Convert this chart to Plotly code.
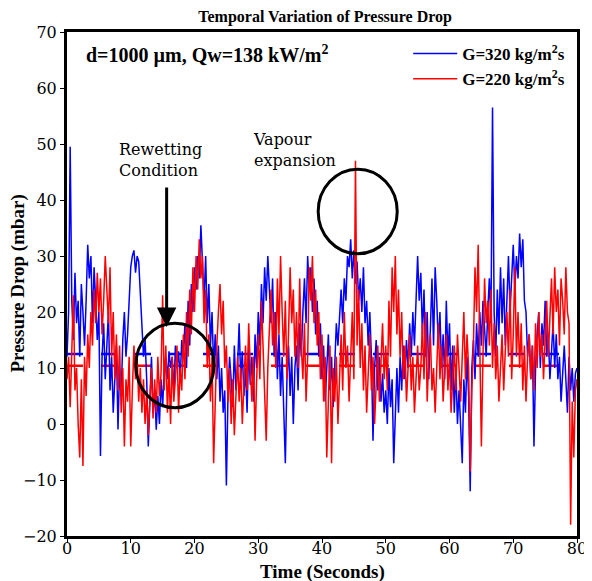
import numpy as np
import plotly.graph_objects as go

# sampled every 0.25 s, 0..80 s
T_STEP = 0.25

blue_g320 = [
    12, 20, 49.5, 22, 15, 27, 18, 22, 12, 25, 20, 14, 22, 32, 26, 30, 18, 28, 22, 15,
    20, -5.7, 12, 18, 8, 15, 20, 6, 12, 2, 8, 14, -1, 10, 5, 15, 20, 12, 16, 22,
    28, 30, 31, 27, 30, 29, 24, 18, 12, 15, 8, -4, 4, 12, 2, 6, -1, 5, 0, 8,
    3, 10, 12, 8, 13, 10, 12, 5, 14, 10, 13, 8, 15, 12, 18, 10, 22, 14, 25, 20,
    28, 24, 30, 26, 35.5, 28, 22, 30, 18, 25, 14, 20, 10, 16, 8, 14, 4, 10, 2, 6,
    -11, 5, 12, 8, 3, 14, 6, 10, 18, 8, 13, 5, 10, 2, 14, 7, 12, 4, 16, 10,
    20, 14, 25, 18, 28, 22, 30, 24, 18, 26, 12, 20, 8, 16, 5, 12, 2, -7, 8, 14,
    5, 12, 0, 10, 14, 6, 18, 12, 20, 26, 18, 30, 24, 28, 20, 26, 16, 22, 12, 18,
    8, 14, 4, 10, 16, 6, 12, 3, 10, 18, 14, 20, 24, 18, 26, 22, 30, 28, 33, 26,
    31, 25, 29, 22, 26, 20, 28, 18, 22, 14, 20, 12, -3, 10, 15, 6, 12, 4, 9, 2,
    6, 0, 10, 3, 8, -7, 4, 10, 2, 12, 6, 14, 8, 15, 10, 18, 12, 20, 14, 24,
    30, 22, 27, 16, 24, 12, 20, 8, 18, 26, 14, 28, 22, 14, 20, 10, 16, 8, 22, 12,
    18, 6, 14, 2, 10, 0, 6, -2, -7, 8, 2, 12, 5, -12, 10, 15, 8, 18, 12, 20,
    14, 22, 16, 12, 20, 26, 18, 56.5, 20, 12, 24, 16, 28, 18, 26, 14, 22, 30, 20, 26,
    32, 24, 30, 26, 34, 28, 33, 22, 20, 12, 16, 8, 14, -4, 10, 16, 20, 10, 18, 14,
    22, 12, 16, 8, 14, 18, 10, 16, 8, 12, 4, 10, 14, 8, 2, 12, 6, 10, 4, 9,
    10,
]

red_g220 = [
    8, 12, 3, 15, 23, 6, 10, 0, -6, 8, -7.5, 12, 5, 16, 10, 20, 14, 24, 18, 27,
    20, 26, 16, 22, 30, 24, 18, 28, 12, 20, 8, 16, 6, 14, 2, 10, -4, 8, 4, 12,
    -4, 6, 14, 8, 12, 4, 10, 2, 8, 0, 6, -2, 4, 10, 1, 8, 2, 12, 5, 9,
    23, 6, 14, 2, 10, 0, 12, 4, 8, 14, 2, 10, 6, 16, 8, 20, 12, 24, 16, 28,
    20, 30, 24, 33, 26, 30, 18, 24, 10, 16, 4, 12, -7, 6, 14, 20, 25, 16, 22, 10,
    14, 4, 10, 0, 8, -2, 6, 12, 4, 10, 0, 8, 14, 6, 18, 10, 4, 12, -3, 8,
    16, 8, 22, 14, 6, -3, 10, 18, 24, 14, 20, 10, 26, 16, 30, 20, 12, 22, 8, 16,
    28, 18, 24, 12, 20, 10, 26, 14, 8, 18, 4, 12, 28, 22, 30, 18, 24, 14, 20, 8,
    16, 4, 12, -6, 6, 14, -7, 10, 4, 12, 0, 8, 16, 6, 20, 10, 14, 4, 12, 20,
    8, 47, 14, 24, 10, 18, 6, 14, 2, 10, 16, 6, 12, 0, 8, 14, 4, 10, 18, 8,
    14, 6, 22, 12, 28, 20, 30, 16, 24, 12, 20, 8, 14, 4, 10, 16, 6, 12, 2, 8,
    14, 6, 10, 18, 8, 20, 4, 12, 16, 6, 10, 2, 12, 18, 8, 14, 4, 10, 16, 6,
    12, 2, 8, 14, 6, 16, 10, 4, 12, 20, 8, 16, 10, -8.5, 6, 14, 28, 20, 32, 16,
    -4, 12, 26, 18, 22, 14, 24, 10, 18, 8, 14, 4, 10, 16, 6, 14, 20, 12, 24, 8,
    16, 28, 12, 20, 10, 18, 6, 14, 4, 12, 16, 8, 14, 6, 18, 10, 20, 12, 16, 8,
    14, 22, 12, 18, 26, 16, 28, 20, 24, 14, 26, 22, 16, 28, 20, 18, -18, 4, -6, 6,
    8,
]

mean_g320 = 12.5
mean_g220 = 10.4

t = np.arange(len(blue_g320)) * T_STEP
bold_serif = "Times New Roman"   # bold face renders as Liberation Serif
plain_serif = "DejaVu Serif"     # regular Times face falls back to sans here

fig = go.Figure()
# dashed mean levels sit under the signals
fig.add_trace(go.Scatter(x=[0, 78.1], y=[mean_g320, mean_g320], mode="lines",
                         line=dict(color="blue", width=2.5, dash="16px,18px"),
                         showlegend=False, hoverinfo="skip"))
fig.add_trace(go.Scatter(x=[0, 78.1], y=[mean_g220, mean_g220], mode="lines",
                         line=dict(color="red", width=2.5, dash="16px,18px"),
                         showlegend=False, hoverinfo="skip"))
fig.add_trace(go.Scatter(x=t, y=blue_g320, mode="lines", name="<b>G=320 kg/m<sup>2</sup>s</b>",
                         legendgroup="a", line=dict(color="blue", width=1.5)))
fig.add_trace(go.Scatter(x=t, y=red_g220, mode="lines", name="<b>G=220 kg/m<sup>2</sup>s</b>",
                         legendgroup="b", line=dict(color="red", width=1.5)))

# circles around the two events
fig.add_shape(type="circle", xref="x", yref="y", x0=10.8, x1=23.05, y0=2.9, y1=18.0,
              line=dict(color="black", width=3))
fig.add_shape(type="circle", xref="x", yref="y", x0=39.4, x1=51.8, y0=30.4, y1=45.5,
              line=dict(color="black", width=3))

fig.add_annotation(x=15.63, y=17.3, ax=15.63, ay=42.5, xref="x", yref="y", axref="x", ayref="y",
                   text="", showarrow=True, arrowhead=2, arrowsize=1.3, arrowwidth=3,
                   arrowcolor="black")
fig.add_annotation(x=8.0, y=47.1, xref="x", yref="y", xanchor="left", align="left",
                   text="Rewetting<br>Condition", showarrow=False, borderpad=0,
                   font=dict(family=plain_serif, size=16, color="black"))
fig.add_annotation(x=29.0, y=49.0, xref="x", yref="y", xanchor="left", align="left",
                   text="Vapour<br>expansion", showarrow=False, borderpad=0,
                   font=dict(family=plain_serif, size=16, color="black"))
fig.add_annotation(x=2.8, y=65.9, xref="x", yref="y", xanchor="left", borderpad=0,
                   text="<b>d=1000 µm, Qw=138 kW/m<sup>2</sup></b>",
                   showarrow=False, font=dict(family=bold_serif, size=20, color="black"))

# axis titles placed by hand
fig.add_annotation(x=0.5, y=-0.0714, xref="paper", yref="paper", xanchor="center", yanchor="middle",
                   text="<b>Time (Seconds)</b>", showarrow=False,
                   font=dict(family=bold_serif, size=19, color="black"))
fig.add_annotation(x=-0.097, y=0.5, xref="paper", yref="paper", xanchor="center", yanchor="middle",
                   textangle=-90, text="<b>Pressure Drop (mbar)</b>", showarrow=False,
                   font=dict(family=bold_serif, size=19, color="black"))

axis_style = dict(showline=True, linewidth=3, linecolor="black", mirror=True,
                  ticks="outside", ticklen=4, tickwidth=1, tickcolor="black",
                  showgrid=False, zeroline=False, automargin=False,
                  tickfont=dict(family=plain_serif, size=16, color="black"))

fig.update_xaxes(range=[0, 80], dtick=10, ticklabelstandoff=-8, **axis_style)
fig.update_yaxes(range=[-20, 70], dtick=10, **axis_style)

# page body keeps an 8px margin, so the figure is 8px smaller than the window
fig.update_layout(
    width=584, height=573,
    margin=dict(l=59, r=15, t=24, b=45),
    paper_bgcolor="white", plot_bgcolor="white",
    title=dict(text="<b>Temporal Variation of Pressure Drop</b>", x=0.543, xanchor="center",
               y=0.995, yanchor="top", font=dict(family=bold_serif, size=16, color="black")),
    legend=dict(x=0.669, y=0.992, xanchor="left", yanchor="top", bgcolor="rgba(0,0,0,0)",
                itemwidth=44, font=dict(family=bold_serif, size=17, color="black"),
                tracegroupgap=0),
)

fig.write_html("out.html")
